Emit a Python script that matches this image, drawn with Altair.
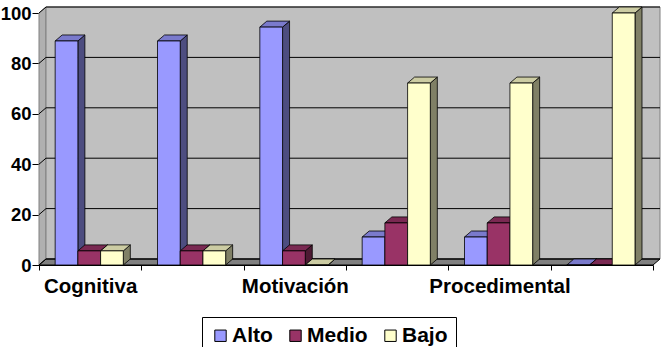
import altair as alt
import pandas as pd

# ---- data ----
categories = ["Cognitiva", "", "Motivación", "", "Procedimental", ""]
series = ["Alto", "Medio", "Bajo"]
alto = [88.9, 88.9, 94.4, 11.1, 11.1, 0.0]
medio = [5.6, 5.6, 5.6, 16.7, 16.7, 0.0]
bajo = [5.6, 5.6, 0.0, 72.2, 72.2, 100.0]
y_ticks = [0, 20, 40, 60, 80, 100]

# ---- style ----
front_colors = ["#9999FF", "#993366", "#FFFFCC"]
cap_colors = ["#7A7ACC", "#7A2952", "#CCCCA3"]
side_colors = ["#4D4D80", "#4D1A33", "#808066"]
W_PX, H_PX = 614, 252
N = len(categories)
YMAX = 100
DX = 7 / W_PX * N        # 3D depth, x (in data units)
DY = 6 / H_PX * YMAX     # 3D depth, y (in data units)
LEFT = 0.158             # gap before first bar inside a category
BW = 0.222               # bar width inside a category
FONT = "Liberation Sans"

values = [alto, medio, bajo]
bars, sides, caps = [], [], []
for j, s in enumerate(series):
    for i in range(N):
        v = values[j][i]
        x1 = i + LEFT + j * BW
        x2 = x1 + BW
        bid = f"{s}-{i}"
        bars.append(dict(id=bid, series=s, x1=x1, x2=x2, y=0, y2=v))
        sides.append(dict(id=bid, x=x2, y=0, y2=v, c=side_colors[j]))
        sides.append(dict(id=bid, x=x2 + DX, y=DY, y2=v + DY, c=side_colors[j]))
        caps.append(dict(id=bid, y=v, x=x1, x2=x2, c=cap_colors[j]))
        caps.append(dict(id=bid, y=v + DY, x=x1 + DX, x2=x2 + DX, c=cap_colors[j]))

bars_df = pd.DataFrame(bars)
sides_df = pd.DataFrame(sides)
caps_df = pd.DataFrame(caps)

left_wall = pd.DataFrame([dict(x=0, y=0, y2=YMAX), dict(x=DX, y=DY, y2=YMAX + DY)])
back_wall = pd.DataFrame([dict(x=DX, x2=N + DX, y=DY, y2=YMAX + DY)])
floor = pd.DataFrame([dict(y=0, x=0, x2=N), dict(y=DY, x=DX, x2=N + DX)])
grid_rows = []
for t in y_ticks:
    grid_rows += [dict(t=t, x=0, y=t, o=0), dict(t=t, x=DX, y=t + DY, o=1),
                  dict(t=t, x=N + DX, y=t + DY, o=2)]
grid_df = pd.DataFrame(grid_rows)

XS = alt.Scale(domain=[0, N], nice=False, zero=False)
YS = alt.Scale(domain=[0, YMAX], nice=False, zero=False)

label_arr = "[" + ",".join(f"'{c}'" for c in categories) + ",'']"
XAXIS = alt.Axis(values=list(range(N + 1)), labelExpr=f"{label_arr}[datum.value]",
                 labelOffset=W_PX / N / 2, labelOverlap=False, labelBound=False,
                 labelFont=FONT, labelFontSize=20.5, labelFontWeight="bold",
                 labelColor="black", labelPadding=6, tickSize=5, tickColor="black",
                 domainColor="black", grid=False, title=None, labelFlush=False)
YAXIS = alt.Axis(values=y_ticks, labelFont=FONT, labelFontSize=18.5, labelFontWeight="bold",
                 labelColor="black", labelPadding=1, tickSize=7, tickColor="black",
                 domainColor="black", grid=False, title=None)


def X(f):
    return alt.X(f, type="quantitative", scale=XS, axis=XAXIS)


def Y(f):
    return alt.Y(f, type="quantitative", scale=YS, axis=YAXIS)


lw = alt.Chart(left_wall).mark_area(color="#B0B0B0", stroke="#808080", strokeWidth=1).encode(
    x=X("x"), y=Y("y"), y2="y2")
bw = alt.Chart(back_wall).mark_rect(color="#C0C0C0", stroke="#808080", strokeWidth=1).encode(
    x=X("x"), x2="x2", y=Y("y"), y2="y2")
fl = alt.Chart(floor).mark_area(orient="horizontal", color="#808080", stroke="black",
                                strokeWidth=1).encode(y=Y("y"), x=X("x"), x2="x2")
gl = alt.Chart(grid_df).mark_line(color="black", strokeWidth=1).encode(
    x=X("x"), y=Y("y"), detail="t:N", order="o:Q")
sd = alt.Chart(sides_df).mark_area(stroke="black", strokeWidth=0.8).encode(
    x=X("x"), y=Y("y"), y2="y2", detail="id:N",
    fill=alt.Fill("c:N", scale=None, legend=None))
cp = alt.Chart(caps_df).mark_area(orient="horizontal", stroke="black", strokeWidth=0.8).encode(
    y=Y("y"), x=X("x"), x2="x2", detail="id:N",
    fill=alt.Fill("c:N", scale=None, legend=None))
fr = alt.Chart(bars_df).mark_rect(stroke="black", strokeWidth=0.8).encode(
    x=X("x1"), x2="x2", y=Y("y"), y2="y2",
    color=alt.Color("series:N", scale=alt.Scale(domain=series, range=front_colors),
                    legend=alt.Legend(orient="none", legendX=163, legendY=304,
                                      direction="horizontal", title=None,
                                      strokeColor="black", fillColor="white",
                                      padding=8, symbolType="square", symbolSize=130,
                                      symbolStrokeColor="black", symbolStrokeWidth=1,
                                      symbolOpacity=1,
                                      labelFont=FONT, labelFontSize=21,
                                      labelFontWeight="bold", labelColor="black",
                                      columnPadding=12, labelOffset=1)))

chart = alt.layer(lw, bw, fl, gl, sd, cp, fr).properties(
    width=W_PX, height=H_PX,
    padding={"left": 39, "top": 13, "right": 10, "bottom": 82},
    autosize=alt.AutoSizeParams(type="none"),
    background="white",
).configure_view(stroke=None)

chart.save("out.html", embed_options={"renderer": "svg", "actions": False})
